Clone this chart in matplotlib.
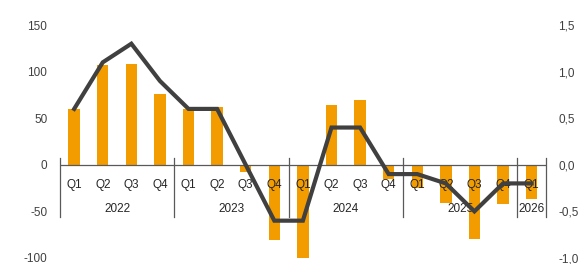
import matplotlib
matplotlib.use('Agg')
import matplotlib.pyplot as plt
from matplotlib.ticker import FuncFormatter

plt.rcParams['font.family'] = ['Liberation Sans', 'DejaVu Sans']
plt.rcParams['axes.unicode_minus'] = False

years = ['2022', '2023', '2024', '2025', '2026']
quarters = ['Q1', 'Q2', 'Q3', 'Q4', 'Q1', 'Q2', 'Q3', 'Q4', 'Q1', 'Q2', 'Q3',
            'Q4', 'Q1', 'Q2', 'Q3', 'Q4', 'Q1']
quarters_per_year = [4, 4, 4, 4, 1]

# bars, left axis
bar_values = [60, 107, 108, 76, 60, 62, -8, -81, -100, 64, 70, -15,
              -25, -41, -80, -42, -37]
# line, right axis
line_values = [0.6, 1.1, 1.3, 0.9, 0.6, 0.6, 0.0, -0.6, -0.6, 0.4, 0.4,
               -0.1, -0.1, -0.2, -0.5, -0.2, -0.2]

BAR_COLOR = '#F39C00'
LINE_COLOR = '#404040'
TEXT_COLOR = '#404040'

fig = plt.figure(figsize=(5.87, 2.64), dpi=100)
ax = fig.add_axes([0.102, 0.023, 0.828, 0.882])
x = list(range(len(bar_values)))
ax.bar(x, bar_values, width=0.4, color=BAR_COLOR, zorder=2)
ax.set_xlim(-0.5, len(x) - 0.5)
ax.set_ylim(-100, 150)
ax.set_yticks([-100, -50, 0, 50, 100, 150])
ax.yaxis.set_major_formatter(FuncFormatter(lambda v, p: f'{v:.0f}'))
ax.set_xticks([])
for side in ['top', 'right', 'bottom', 'left']:
    ax.spines[side].set_visible(False)
ax.tick_params(axis='y', length=0, labelsize=8.5, labelcolor=TEXT_COLOR, pad=9)
ax.axhline(0, color='#595959', linewidth=0.9, zorder=3)

# grouped category axis
trans = ax.get_xaxis_transform()
for i, q in enumerate(quarters):
    ax.text(i, 0.314, q, transform=trans, ha='center', va='center',
            fontsize=8.5, color='#262626')
start = 0
for year, n in zip(years, quarters_per_year):
    ax.text(start + (n - 1) / 2, 0.211, year, transform=trans, ha='center',
            va='center', fontsize=8.5, color='#262626')
    start += n
bounds = [-0.5]
for n in quarters_per_year:
    bounds.append(bounds[-1] + n)
for b in bounds:
    ax.plot([b, b], [0.176, 0.4285], transform=trans, color='#595959',
            linewidth=0.9, clip_on=False, zorder=3)

ax2 = ax.twinx()
ax2.plot(x, line_values, color=LINE_COLOR, linewidth=3.0, zorder=4,
         solid_joinstyle='miter')
ax2.set_ylim(-1.0, 1.5)
ax2.set_yticks([-1.0, -0.5, 0.0, 0.5, 1.0, 1.5])
ax2.yaxis.set_major_formatter(
    FuncFormatter(lambda v, p: f'{v:.1f}'.replace('.', ',')))
for side in ['top', 'right', 'bottom', 'left']:
    ax2.spines[side].set_visible(False)
ax2.tick_params(axis='y', length=0, labelsize=8.5, labelcolor=TEXT_COLOR, pad=9)

fig.savefig('out.png', dpi=100)
